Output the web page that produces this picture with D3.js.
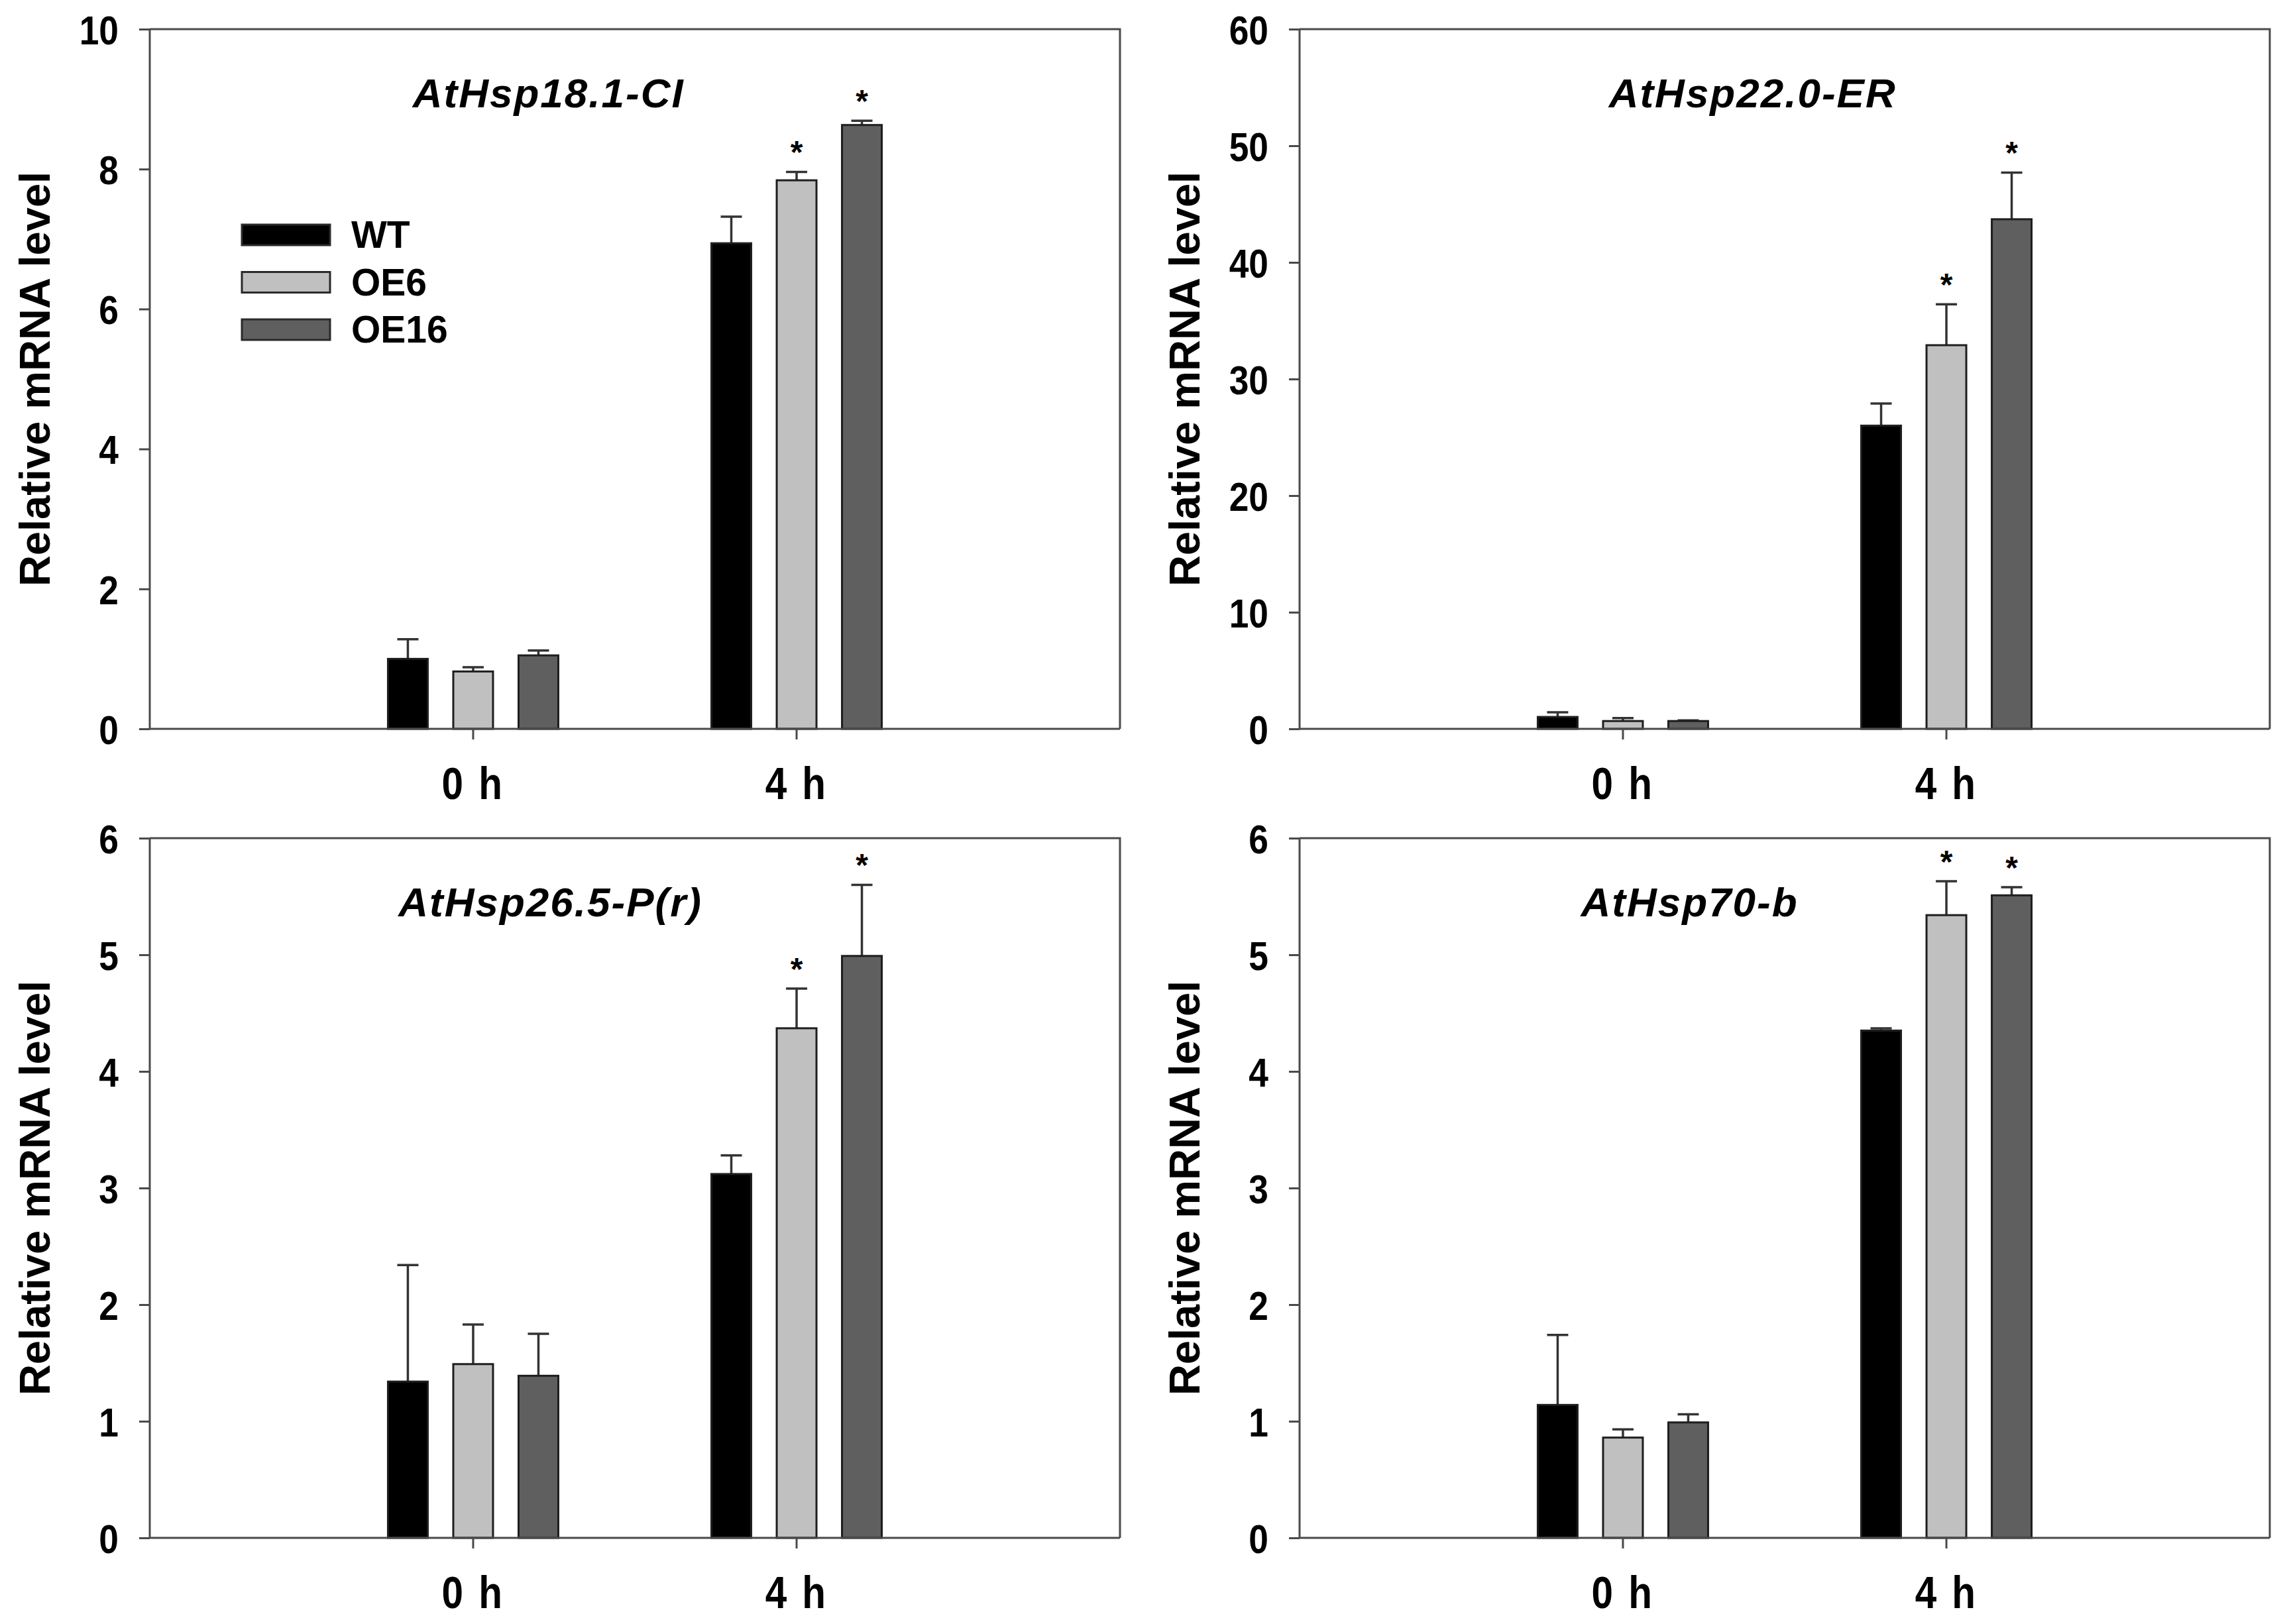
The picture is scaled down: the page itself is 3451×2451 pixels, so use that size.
<!DOCTYPE html>
<html>
<head>
<meta charset="utf-8">
<script src="https://cdn.jsdelivr.net/npm/d3@7"></script>
<style>
  html, body { margin: 0; padding: 0; background: #fff; }
  svg { display: block; }
  .tick text { font-family: "Liberation Sans", Arial, sans-serif; font-weight: bold; fill: #000; }
</style>
</head>
<body>
<svg id="chart" width="3451" height="2451"></svg>
<script>
// time points and lines
const groups = ['0 h', '4 h'];
const series = ['WT', 'OE6', 'OE16'];
const colors = ['#000000', '#c0c0c0', '#5f5f5f'];

// one panel per gene
const genes = ['AtHsp18.1-CI', 'AtHsp22.0-ER', 'AtHsp26.5-P(r)', 'AtHsp70-b'];
const yMax = [10, 60, 6, 6];
const yStep = [2, 10, 1, 1];

// mean [time][line], error (upper only), significance star
const hsp181Mean = [[1.00, 0.82, 1.05], [6.94, 7.84, 8.63]];
const hsp181Err = [[0.28, 0.06, 0.07], [0.38, 0.12, 0.06]];
const hsp181Sig = [[0, 0, 0], [0, 1, 1]];

const hsp220Mean = [[1.02, 0.67, 0.67], [26.0, 32.9, 43.7]];
const hsp220Err = [[0.40, 0.26, 0.05], [1.9, 3.5, 4.0]];
const hsp220Sig = [[0, 0, 0], [0, 1, 1]];

const hsp265Mean = [[1.34, 1.49, 1.39], [3.12, 4.37, 4.99]];
const hsp265Err = [[1.00, 0.34, 0.36], [0.16, 0.34, 0.61]];
const hsp265Sig = [[0, 0, 0], [0, 1, 1]];

const hsp70Mean = [[1.14, 0.86, 0.99], [4.35, 5.34, 5.51]];
const hsp70Err = [[0.60, 0.07, 0.07], [0.02, 0.29, 0.07]];
const hsp70Sig = [[0, 0, 0], [0, 1, 1]];

const means = [hsp181Mean, hsp220Mean, hsp265Mean, hsp70Mean];
const errs = [hsp181Err, hsp220Err, hsp265Err, hsp70Err];
const sigs = [hsp181Sig, hsp220Sig, hsp265Sig, hsp70Sig];

// layout
const plotW = 1464;
const plotH = 1056;
const colLeft = [226, 1961];
const rowTop = [44, 1265];
const titleX = [0.411, 0.467, 0.413, 0.402];
const axisColor = '#4a4a4a';
const narrow = 0.86; // tick labels are a condensed face in the original

const svg = d3.select('#chart');

const x0 = d3.scaleBand()
  .domain(groups)
  .range([0, plotW])
  .paddingInner(0.3945)
  .paddingOuter(0.697);

const x1 = d3.scaleBand()
  .domain(series)
  .range([0, x0.bandwidth()])
  .paddingInner(0.391)
  .paddingOuter(0.1955);

genes.forEach((gene, gi) => {
  const left = colLeft[gi % 2];
  const top = rowTop[Math.floor(gi / 2)];
  const g = svg.append('g').attr('transform', `translate(${left},${top})`);

  const y = d3.scaleLinear().domain([0, yMax[gi]]).range([plotH, 0]);

  // flatten to bar records
  const bars = [];
  groups.forEach((grp, ti) => {
    series.forEach((s, si) => {
      bars.push({
        grp, s, si,
        mean: means[gi][ti][si],
        err: errs[gi][ti][si],
        sig: sigs[gi][ti][si],
      });
    });
  });

  const barX = d => x0(d.grp) + x1(d.s);
  const barMid = d => barX(d) + x1.bandwidth() / 2;

  // error bars (upper only)
  const eb = g.append('g').attr('class', 'errorbars')
    .attr('stroke', '#333').attr('stroke-width', 3.5);
  eb.selectAll('line.v').data(bars).join('line')
    .attr('class', 'v')
    .attr('x1', barMid).attr('x2', barMid)
    .attr('y1', d => y(d.mean)).attr('y2', d => y(d.mean + d.err));
  eb.selectAll('line.cap').data(bars).join('line')
    .attr('class', 'cap')
    .attr('x1', d => barMid(d) - 16).attr('x2', d => barMid(d) + 16)
    .attr('y1', d => y(d.mean + d.err)).attr('y2', d => y(d.mean + d.err));

  // bars
  g.append('g').attr('class', 'bars')
    .selectAll('rect').data(bars).join('rect')
    .attr('x', barX)
    .attr('y', d => y(d.mean))
    .attr('width', x1.bandwidth())
    .attr('height', d => plotH - y(d.mean))
    .attr('fill', d => colors[d.si])
    .attr('stroke', '#1e1e1e')
    .attr('stroke-width', 3);

  // significance stars
  g.append('g').attr('class', 'stars')
    .selectAll('text').data(bars.filter(d => d.sig)).join('text')
    .attr('x', barMid)
    .attr('y', d => y(d.mean + d.err) - 13)
    .attr('text-anchor', 'middle')
    .style('font-family', '"Liberation Sans", Arial, sans-serif')
    .style('font-weight', 'bold')
    .style('font-size', '48px')
    .text('*');

  // frame (top and right)
  g.append('path')
    .attr('d', `M0,0H${plotW}V${plotH}`)
    .attr('fill', 'none')
    .attr('stroke', axisColor)
    .attr('stroke-width', 3);

  // y axis
  const yAxis = g.append('g')
    .call(d3.axisLeft(y)
      .tickValues(d3.range(0, yMax[gi] + 0.001, yStep[gi]))
      .tickFormat(d3.format('d'))
      .tickSize(16)
      .tickPadding(30));
  yAxis.select('.domain').attr('stroke', axisColor).attr('stroke-width', 3)
    .attr('d', `M0,0V${plotH}`);
  yAxis.selectAll('.tick line').attr('stroke', axisColor).attr('stroke-width', 3);
  yAxis.selectAll('.tick text')
    .style('font-size', '62px')
    .attr('dy', '0.36em')
    .attr('x', -47 / narrow)
    .attr('transform', `scale(${narrow},1)`);

  // x axis
  const xAxis = g.append('g')
    .attr('transform', `translate(0,${plotH})`)
    .call(d3.axisBottom(x0).tickSize(16).tickPadding(42));
  xAxis.select('.domain').attr('stroke', axisColor).attr('stroke-width', 3)
    .attr('d', `M0,0H${plotW}`);
  xAxis.selectAll('.tick line').attr('stroke', axisColor).attr('stroke-width', 3);
  xAxis.selectAll('.tick text')
    .style('font-size', '68px')
    .style('letter-spacing', '4px')
    .attr('transform', `scale(${narrow},1)`);

  // gene title
  g.append('text')
    .attr('x', plotW * titleX[gi])
    .attr('y', 118)
    .attr('text-anchor', 'middle')
    .style('font-family', '"Liberation Sans", Arial, sans-serif')
    .style('font-weight', 'bold')
    .style('font-style', 'italic')
    .style('font-size', '62px')
    .style('letter-spacing', '2px')
    .text(gene);

  // y axis title
  g.append('text')
    .attr('transform', `translate(${-174},${plotH / 2}) rotate(-90)`)
    .attr('text-anchor', 'middle')
    .attr('dy', '0.36em')
    .style('font-family', '"Liberation Sans", Arial, sans-serif')
    .style('font-weight', 'bold')
    .style('font-size', '65px')
    .text('Relative mRNA level');

  // legend in the first panel only
  if (gi === 0) {
    const lg = g.append('g').attr('transform', 'translate(139,295)');
    const row = lg.selectAll('g').data(series).join('g')
      .attr('transform', (d, i) => `translate(0,${i * 71.5})`);
    row.append('rect')
      .attr('width', 133).attr('height', 31)
      .attr('fill', (d, i) => colors[i])
      .attr('stroke', '#2a2a2a').attr('stroke-width', 3);
    row.append('text')
      .attr('x', 165).attr('y', 35)
      .style('font-family', '"Liberation Sans", Arial, sans-serif')
      .style('font-weight', 'bold')
      .style('font-size', '57px')
      .text(d => d);
  }
});
</script>
</body>
</html>
